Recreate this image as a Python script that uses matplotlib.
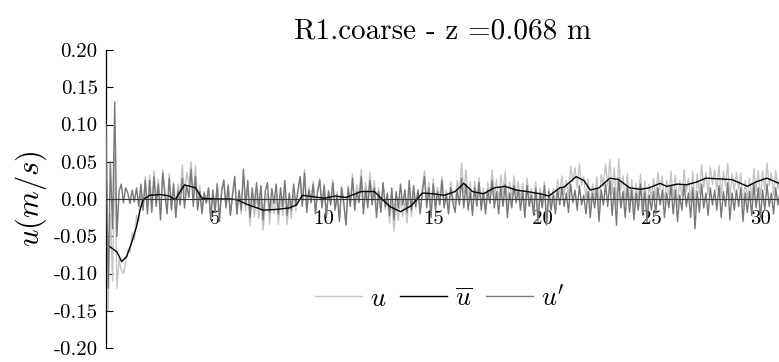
import numpy as np
import matplotlib
matplotlib.use("Agg")
import matplotlib.pyplot as plt

plt.rcParams['font.family'] = 'serif'
plt.rcParams['font.serif'] = ['cmr10', 'DejaVu Serif']
plt.rcParams['mathtext.fontset'] = 'cm'
plt.rcParams['axes.unicode_minus'] = False

title = "R1.coarse - z =0.068 m"
dt = 0.1

# instantaneous velocity u (m/s), sampled every dt
u = [
    0.130, -0.150, -0.020, -0.110, 0.060, -0.120, -0.080, -0.095, -0.100, -0.085,
    -0.068, -0.072, -0.045, -0.055, -0.022, -0.030, 0.012, -0.015, 0.030, -0.015,
    0.032, -0.010, 0.038, -0.002, 0.027, -0.022, 0.040, 0.012, -0.014, 0.034,
    -0.010, 0.022, -0.024, 0.020, 0.008, 0.046, 0.006, 0.036, 0.020, 0.050,
    0.004, 0.045, -0.004, 0.018, -0.016, 0.010, -0.006, 0.014, -0.027, 0.012,
    -0.016, 0.022, -0.028, 0.012, 0.026, -0.010, 0.020, -0.021, 0.006, 0.031,
    -0.021, 0.010, -0.020, 0.034, -0.016, 0.018, -0.036, 0.004, -0.024, 0.008,
    -0.026, 0.004, -0.042, -0.006, 0.008, -0.034, 0.000, -0.020, 0.006, -0.034,
    0.002, -0.022, 0.013, -0.034, -0.004, -0.026, 0.010, -0.016, 0.008, 0.030,
    -0.005, 0.040, -0.013, 0.016, -0.002, 0.024, -0.018, 0.012, 0.027, -0.011,
    0.020, -0.022, 0.012, -0.004, 0.026, -0.012, 0.010, -0.027, 0.017, -0.004,
    -0.032, 0.018, -0.006, 0.034, -0.007, 0.019, 0.005, 0.040, -0.010, 0.022,
    -0.002, 0.036, 0.002, 0.025, -0.017, 0.015, -0.016, 0.021, -0.014, 0.001,
    -0.032, 0.002, -0.043, -0.006, -0.029, 0.003, -0.024, -0.003, -0.032, 0.013,
    -0.024, 0.012, -0.013, 0.012, -0.016, 0.016, 0.038, -0.004, 0.022, -0.018,
    0.027, -0.009, 0.016, -0.003, 0.030, -0.007, 0.012, -0.013, 0.023, 0.004,
    -0.008, 0.025, 0.009, 0.048, 0.009, 0.039, 0.001, 0.023, -0.012, 0.024,
    -0.002, 0.029, -0.008, 0.015, -0.012, 0.022, 0.006, 0.039, 0.003, 0.026,
    -0.004, 0.032, 0.007, 0.037, -0.009, 0.023, 0.002, 0.031, 0.007, 0.024,
    -0.003, 0.021, -0.014, 0.028, 0.000, 0.014, -0.013, 0.023, -0.022, 0.015,
    -0.006, 0.023, -0.031, 0.014, -0.009, 0.014, -0.008, 0.026, 0.007, 0.031,
    0.006, 0.025, 0.002, 0.044, 0.023, 0.042, 0.015, 0.047, 0.019, 0.030,
    0.001, 0.027, -0.012, 0.020, 0.001, 0.030, -0.013, 0.033, 0.017, 0.047,
    0.018, 0.053, 0.006, 0.042, -0.009, 0.054, 0.012, 0.031, -0.007, 0.034,
    -0.003, 0.026, -0.015, 0.021, -0.002, 0.033, -0.008, 0.024, -0.015, 0.020,
    0.001, 0.028, 0.000, 0.036, 0.013, 0.031, -0.007, 0.025, 0.006, 0.037,
    0.000, 0.032, -0.010, 0.024, 0.004, 0.039, 0.009, 0.028, -0.004, 0.037,
    -0.017, 0.034, 0.007, 0.046, 0.015, 0.036, 0.006, 0.043, 0.019, 0.039,
    0.012, 0.045, 0.002, 0.037, 0.017, 0.048, -0.002, 0.034, 0.010, 0.036,
    0.012, 0.035, -0.012, 0.025, -0.001, 0.028, -0.002, 0.041, 0.010, 0.038,
    0.000, 0.038, 0.012, 0.048, 0.018, 0.035, 0.005, 0.038, 0.014, 0.031,
]

# fluctuation u' (m/s), sampled every dt
u_prime = [
    0.100, -0.120, 0.050, -0.040, 0.130, -0.050, 0.010, 0.020, -0.005, 0.015,
    0.008, -0.006, 0.012, -0.004, 0.015, -0.010, 0.020, -0.015, 0.025, -0.020,
    0.025, -0.018, 0.030, -0.010, 0.020, -0.028, 0.035, 0.005, -0.020, 0.028,
    -0.015, 0.020, -0.025, 0.012, -0.008, 0.028, -0.012, 0.018, 0.002, 0.040,
    -0.010, 0.030, -0.015, 0.010, -0.020, 0.008, -0.005, 0.015, -0.028, 0.012,
    -0.018, 0.020, -0.030, 0.010, 0.025, -0.012, 0.018, -0.022, 0.005, 0.030,
    -0.020, 0.012, -0.015, 0.040, -0.008, 0.025, -0.025, 0.015, -0.010, 0.022,
    -0.012, 0.018, -0.028, 0.010, 0.022, -0.018, 0.014, -0.006, 0.020, -0.020,
    0.015, -0.010, 0.025, -0.022, 0.008, -0.015, 0.020, -0.008, 0.012, 0.030,
    -0.010, 0.035, -0.018, 0.012, -0.005, 0.020, -0.020, 0.010, 0.025, -0.012,
    0.018, -0.025, 0.010, -0.008, 0.022, -0.015, 0.006, -0.030, 0.015, -0.006,
    -0.035, 0.015, -0.010, 0.028, -0.015, 0.010, -0.005, 0.030, -0.020, 0.012,
    -0.012, 0.025, -0.008, 0.015, -0.025, 0.010, -0.018, 0.022, -0.010, 0.008,
    -0.022, 0.015, -0.028, 0.010, -0.012, 0.020, -0.008, 0.012, -0.018, 0.025,
    -0.015, 0.018, -0.010, 0.012, -0.020, 0.008, 0.030, -0.012, 0.015, -0.025,
    0.020, -0.015, 0.010, -0.008, 0.025, -0.012, 0.006, -0.020, 0.015, -0.005,
    -0.018, 0.012, -0.008, 0.028, -0.012, 0.020, -0.015, 0.010, -0.022, 0.015,
    -0.010, 0.022, -0.015, 0.008, -0.020, 0.012, -0.006, 0.025, -0.012, 0.010,
    -0.020, 0.015, -0.010, 0.020, -0.025, 0.008, -0.012, 0.018, -0.005, 0.012,
    -0.015, 0.010, -0.025, 0.018, -0.010, 0.005, -0.022, 0.015, -0.030, 0.008,
    -0.012, 0.018, -0.035, 0.010, -0.015, 0.005, -0.020, 0.012, -0.008, 0.015,
    -0.010, 0.008, -0.018, 0.020, -0.005, 0.012, -0.015, 0.018, -0.008, 0.005,
    -0.020, 0.010, -0.025, 0.008, -0.012, 0.015, -0.030, 0.012, -0.008, 0.020,
    -0.010, 0.025, -0.022, 0.015, -0.035, 0.028, -0.012, 0.010, -0.025, 0.018,
    -0.018, 0.012, -0.028, 0.008, -0.015, 0.020, -0.022, 0.010, -0.030, 0.005,
    -0.015, 0.010, -0.020, 0.015, -0.008, 0.012, -0.025, 0.008, -0.012, 0.018,
    -0.020, 0.012, -0.030, 0.005, -0.015, 0.020, -0.010, 0.008, -0.025, 0.015,
    -0.040, 0.010, -0.018, 0.020, -0.012, 0.008, -0.022, 0.015, -0.008, 0.012,
    -0.015, 0.018, -0.025, 0.010, -0.010, 0.022, -0.028, 0.008, -0.015, 0.012,
    -0.010, 0.015, -0.030, 0.008, -0.018, 0.010, -0.022, 0.020, -0.012, 0.015,
    -0.025, 0.012, -0.015, 0.020, -0.010, 0.008, -0.020, 0.015, -0.008, 0.010,
]

# mean velocity (smooth curve) read at selected times
ubar_t = [0.18, 0.5, 0.72, 0.95, 1.17, 1.4, 1.56, 1.7, 2.0, 2.5,
          2.9, 3.17, 3.6, 4.1, 4.4, 5.0, 5.7, 6.0, 6.45, 7.2,
          7.8, 8.4, 8.73, 9.0, 9.5, 10.0, 10.5, 11.0, 11.7, 12.3,
          13.0, 13.5, 14.0, 14.5, 15.0, 15.5, 16.0, 16.4, 16.8, 17.3,
          17.8, 18.3, 18.8, 19.3, 19.9, 20.3, 20.8, 21.0, 21.55, 21.9,
          22.2, 22.6, 23.1, 23.5, 24.0, 24.5, 24.9, 25.4, 25.7, 26.2,
          26.6, 27.1, 27.5, 28.1, 28.7, 29.4, 29.8, 30.3, 30.85]
ubar = [-0.064, -0.071, -0.084, -0.077, -0.059, -0.037, -0.015, -0.001, 0.005, 0.006,
        0.004, -0.001, 0.019, 0.015, 0.001, 0.000, 0.000, -0.001, -0.007, -0.015,
        -0.014, -0.012, -0.008, 0.005, 0.003, 0.001, 0.004, 0.002, 0.010, 0.010,
        -0.010, -0.017, -0.009, 0.008, 0.007, 0.005, 0.010, 0.021, 0.010, 0.007,
        0.015, 0.017, 0.012, 0.010, 0.007, 0.004, 0.015, 0.016, 0.030, 0.025,
        0.012, 0.015, 0.028, 0.026, 0.015, 0.013, 0.015, 0.021, 0.017, 0.020,
        0.019, 0.023, 0.028, 0.027, 0.026, 0.017, 0.023, 0.028, 0.021]

yticks = [-0.20, -0.15, -0.10, -0.05, 0.00, 0.05, 0.10, 0.15, 0.20]
ytick_labels = ["-0.20", "-0.15", "-0.10", "-0.05", "0.00", "0.05", "0.10", "0.15", "0.20"]
xticks = [5, 10, 15, 20, 25, 30]
xtick_labels = ["5", "10", "15", "20", "25", "30"]

t = np.arange(len(u)) * dt
t_p = np.arange(len(u_prime)) * dt

fig = plt.figure(figsize=(7.79, 3.62), dpi=100)
ax = fig.add_axes([106 / 779, 14 / 362, 673 / 779, 298 / 362])

ax.plot(t, u, color='#c4c4c4', lw=1.0, label=r'$u$', zorder=2)
ax.plot(ubar_t, ubar, color='black', lw=1.0, label=r'$\overline{u}$', zorder=4)
ax.plot(t_p, u_prime, color='#787878', lw=1.0, label=r"$u'$", zorder=3)

ax.set_xlim(0, 30.85)
ax.set_ylim(-0.20, 0.20)

ax.spines['top'].set_visible(False)
ax.spines['right'].set_visible(False)
ax.spines['bottom'].set_position(('data', 0))
ax.spines['bottom'].set_color('#333333')
ax.spines['bottom'].set_linewidth(0.8)
ax.spines['bottom'].set_zorder(5)
ax.spines['left'].set_linewidth(0.9)

ax.set_yticks(yticks)
ax.set_yticklabels(ytick_labels)
ax.set_xticks(xticks)
ax.set_xticklabels(xtick_labels)
ax.tick_params(axis='y', direction='in', length=5, width=0.8, labelsize=15, pad=6)
ax.tick_params(axis='x', direction='in', length=0, labelsize=15, pad=8)

ax.set_ylabel(r'$u(m/s)$', fontsize=22, labelpad=3)
ax.set_title(title, fontsize=21, pad=8)

ax.legend(loc='center', bbox_to_anchor=(0.496, 0.168), ncol=3, frameon=False,
          fontsize=19, handlelength=1.8, handletextpad=0.3, columnspacing=0.5,
          borderaxespad=0)

fig.savefig('out.png', dpi=100)
